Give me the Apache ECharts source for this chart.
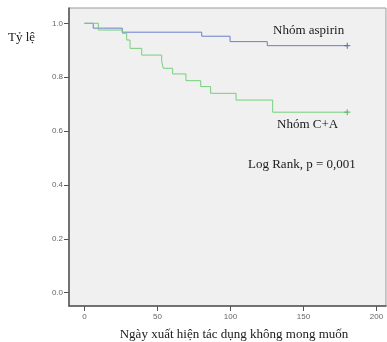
<!DOCTYPE html>
<html>
<head>
<meta charset="utf-8">
<script src="https://cdn.jsdelivr.net/npm/echarts@6/dist/echarts.min.js"></script>
<style>html,body{margin:0;padding:0;background:#fff}#c{width:387px;height:342px}</style>
</head>
<body>
<div id="c"></div>
<script>
// Kaplan-Meier data (days, survival proportion)
const aspirinDays = [0, 6, 25.9, 80.3, 99.7, 125.2, 180];
const aspirinSurv = [1.0, 0.982, 0.967, 0.952, 0.932, 0.917, 0.917];
const caDays = [0, 9.5, 25.9, 28.9, 31.2, 39.2, 52.9, 54, 60.4, 69.5, 79.6, 86.4, 103.8, 128.9, 180];
const caSurv = [1.0, 0.975, 0.963, 0.938, 0.907, 0.882, 0.857, 0.833, 0.812, 0.787, 0.765, 0.740, 0.715, 0.670, 0.670];
const xTicks = [0, 50, 100, 150, 200];
const yTicks = [0.0, 0.2, 0.4, 0.6, 0.8, 1.0];
const seriesNames = ['Nhóm aspirin', 'Nhóm C+A'];
const yTitle = 'Tỷ lệ';
const xTitle = 'Ngày xuất hiện tác dụng không mong muốn';
const note = 'Log Rank, p = 0,001';

const pair = (xs, ys) => xs.map((x, i) => [x, ys[i]]);
const lastPt = (xs, ys) => [[xs[xs.length - 1], ys[ys.length - 1]]];
const plus = 'path://M2,0H3V2H5V3H3V5H2V3H0V2H2Z';
const blue = '#6b7dcc', green = '#74d07a';
const serif = '"Liberation Serif", "DejaVu Serif", serif';

const chart = echarts.init(document.getElementById('c'), null, {renderer: 'canvas'});
chart.setOption({
  animation: false,
  backgroundColor: '#ffffff',
  grid: {left: 69, right: 1, top: 8, bottom: 36, show: true, backgroundColor: '#f0f0f0', borderColor: '#9a9a9a', borderWidth: 1},
  xAxis: {
    type: 'value', min: -10.6, max: 206.5,
    axisLine: {show: true, onZero: false, lineStyle: {color: '#555', width: 1.5}},
    axisTick: {show: true, length: 5, customValues: xTicks, lineStyle: {color: '#555'}},
    axisLabel: {customValues: xTicks, margin: 7, fontFamily: 'Liberation Sans, Arial', fontSize: 8, color: '#666'},
    splitLine: {show: false}
  },
  yAxis: {
    type: 'value', min: -0.0494, max: 1.0568,
    axisLine: {show: true, onZero: false, lineStyle: {color: '#555', width: 1.5}},
    axisTick: {show: true, length: 5, customValues: yTicks, lineStyle: {color: '#555'}},
    axisLabel: {customValues: yTicks, margin: 6, fontFamily: 'Liberation Sans, Arial', fontSize: 8, color: '#666',
      formatter: v => v.toFixed(1)},
    splitLine: {show: false}
  },
  series: [
    {name: seriesNames[0], type: 'line', step: 'end', data: pair(aspirinDays, aspirinSurv), showSymbol: false,
      lineStyle: {color: blue, width: 1}, z: 3},
    {name: seriesNames[1], type: 'line', step: 'end', data: pair(caDays, caSurv), showSymbol: false,
      lineStyle: {color: green, width: 1}, z: 4},
    {type: 'scatter', data: lastPt(aspirinDays, aspirinSurv), symbol: plus, symbolSize: 6, itemStyle: {color: '#4a5fb8'}, z: 5},
    {type: 'scatter', data: lastPt(caDays, caSurv), symbol: plus, symbolSize: 6, itemStyle: {color: '#3fb84f'}, z: 5}
  ],
  graphic: [
    {type: 'text', x: 8, y: 38, style: {text: yTitle, font: '13px ' + serif, fill: '#1a1a1a', textVerticalAlign: 'middle'}},
    {type: 'text', x: 273, y: 31, style: {text: seriesNames[0], font: '13px ' + serif, fill: '#1a1a1a', textVerticalAlign: 'middle'}},
    {type: 'text', x: 277, y: 125, style: {text: seriesNames[1], font: '13px ' + serif, fill: '#1a1a1a', textVerticalAlign: 'middle'}},
    {type: 'text', x: 248, y: 165, style: {text: note, font: '13px ' + serif, fill: '#1a1a1a', textVerticalAlign: 'middle'}},
    {type: 'text', x: 234, y: 335, style: {text: xTitle, font: '13px ' + serif, fill: '#1a1a1a', textAlign: 'center', textVerticalAlign: 'middle'}}
  ]
});
</script>
</body>
</html>
